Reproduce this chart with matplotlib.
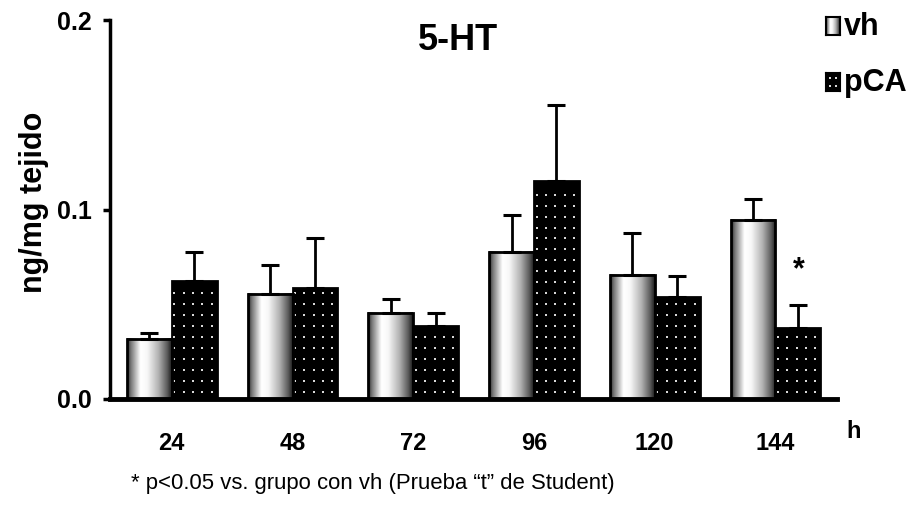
import numpy as np
import matplotlib
matplotlib.use('Agg')
import matplotlib.pyplot as plt
from matplotlib.patches import Rectangle

plt.rcParams['font.family'] = ['Liberation Sans', 'DejaVu Sans']

# 5-HT (ng/mg tejido), media y error estándar
horas = ['24', '48', '72', '96', '120', '144']
vh = [0.0317, 0.0556, 0.0455, 0.0778, 0.0656, 0.0947]
vh_err = [0.0033, 0.0153, 0.0075, 0.0192, 0.0222, 0.0111]
pca = [0.0624, 0.0587, 0.0386, 0.1148, 0.0540, 0.0376]
pca_err = [0.0154, 0.0263, 0.0069, 0.0402, 0.0110, 0.0121]
signif = [False, False, False, False, False, True]

ancho = 0.372
x = np.arange(len(horas))

# perfil de sombreado tipo cilindro para las barras vh
perfil = np.interp(np.linspace(0, 1, 200),
                   [0.0, 0.08, 0.3, 0.45, 0.7, 0.9, 1.0],
                   [0.15, 0.45, 1.0, 0.97, 0.7, 0.35, 0.1])
gradiente = perfil[np.newaxis, :]

fig = plt.figure(figsize=(9.19, 5.25), dpi=100)
ax = fig.add_axes([110 / 919, 1 - 399 / 525, 727 / 919, 379 / 525])


def puntos(ax, x0, x1, y1, paso_x=0.077, paso_y=0.0058):
    xs = np.arange(x0 + 0.022, x1, paso_x)
    ys = np.arange(0.0035, y1 - 0.002, paso_y)
    gx, gy = np.meshgrid(xs, ys)
    ax.scatter(gx.ravel(), gy.ravel(), s=2.4, marker='s', color='#d8d8d8',
               linewidths=0, zorder=3)


for i in range(len(horas)):
    # vh: barra con degradado
    x0 = x[i] - ancho
    ax.imshow(gradiente, extent=[x0, x[i], 0, vh[i]], aspect='auto',
              cmap='gray', vmin=0, vmax=1, zorder=2, interpolation='bilinear')
    ax.add_patch(Rectangle((x0, 0), ancho, vh[i], fill=False,
                           edgecolor='black', linewidth=2, zorder=4))
    # pCA: barra negra punteada
    ax.add_patch(Rectangle((x[i], 0), ancho, pca[i], facecolor='black',
                           edgecolor='black', linewidth=2, zorder=2))
    puntos(ax, x[i], x[i] + ancho, pca[i])

ax.errorbar(x - ancho / 2, vh, yerr=[np.zeros(len(vh)), vh_err], fmt='none',
            ecolor='black', elinewidth=2, capsize=6.5, capthick=2.2, zorder=5)
ax.errorbar(x + ancho / 2, pca, yerr=[np.zeros(len(pca)), pca_err], fmt='none',
            ecolor='black', elinewidth=2, capsize=6.5, capthick=2.2, zorder=5)

for i, s in enumerate(signif):
    if s:
        ax.text(x[i] + ancho / 2 + 0.005, pca[i] + pca_err[i] + 0.0185, '*',
                ha='center', va='center', fontsize=22, fontweight='bold')

ax.set_xlim(-0.512, 5.51)
ax.set_ylim(0, 0.2)
ax.set_yticks([0.0, 0.1, 0.2])
ax.set_yticklabels(['0.0', '0.1', '0.2'])
ax.set_xticks(x)
ax.set_xticklabels(horas)
ax.tick_params(axis='x', length=0, pad=24, labelsize=17)
ax.tick_params(axis='y', length=5, width=2.5, pad=8, labelsize=18)
for lab in ax.get_xticklabels() + ax.get_yticklabels():
    lab.set_fontweight('bold')

for lado in ['top', 'right']:
    ax.spines[lado].set_visible(False)
ax.spines['left'].set_linewidth(2.5)
ax.spines['bottom'].set_linewidth(3.5)
ax.spines['bottom'].set_zorder(6)

ax.set_ylabel('ng/mg tejido', fontsize=22, fontweight='bold', va='center')
ax.yaxis.set_label_coords(-0.104, 0.52)

fig.text(854 / 919, 1 - 432 / 525, 'h', ha='center', va='center',
         fontsize=17, fontweight='bold')
fig.text(458 / 919, 1 - 40 / 525, '5-HT', ha='center', va='center',
         fontsize=26, fontweight='bold')

# leyenda
k_vh = fig.add_axes([826 / 919, 1 - 35 / 525, 14 / 919, 18 / 525])
k_vh.imshow(gradiente, extent=[0, 1, 0, 1], aspect='auto', cmap='gray',
            vmin=0, vmax=1)
k_pca = fig.add_axes([826 / 919, 1 - 91 / 525, 14 / 919, 18 / 525])
k_pca.set_facecolor('black')
k_pca.scatter([0.3, 0.7, 0.3, 0.7], [0.3, 0.3, 0.72, 0.72], s=3, marker='s',
              color='#d8d8d8', linewidths=0)
for k in (k_vh, k_pca):
    k.set_xlim(0, 1)
    k.set_ylim(0, 1)
    k.set_xticks([])
    k.set_yticks([])
    for sp in k.spines.values():
        sp.set_linewidth(1.5)
fig.text(844 / 919, 1 - 35 / 525, 'vh', ha='left', va='baseline',
         fontsize=22, fontweight='bold')
fig.text(844 / 919, 1 - 91 / 525, 'pCA', ha='left', va='baseline',
         fontsize=22, fontweight='bold')

fig.text(131 / 919, 1 - 483 / 525,
         '* p<0.05 vs. grupo con vh (Prueba \u201ct\u201d de Student)',
         ha='left', va='center', fontsize=15.9)

fig.savefig('out.png', dpi=100)
